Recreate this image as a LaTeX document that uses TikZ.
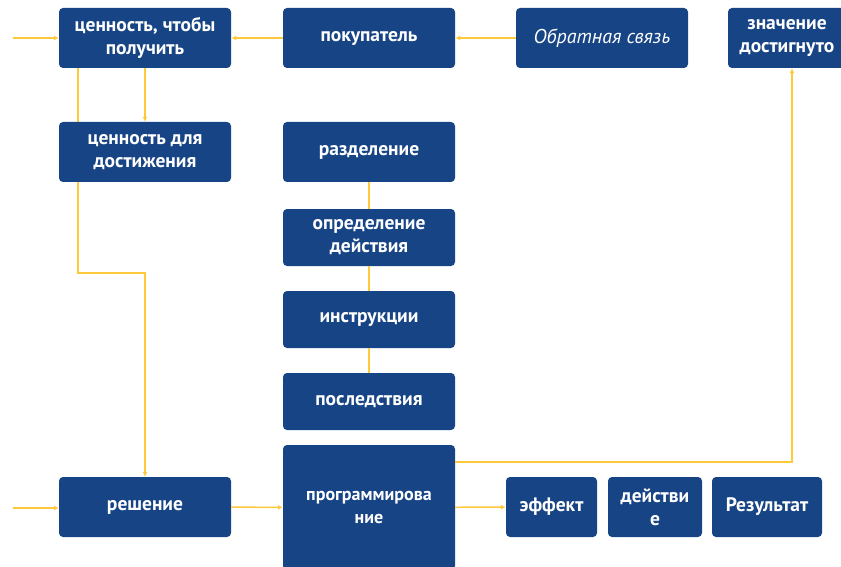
\documentclass[tikz,border=0pt]{standalone}
\usepackage{fontspec}
\setmainfont{PT Sans}
\usetikzlibrary{arrows.meta,backgrounds}
\definecolor{boxblue}{HTML}{174485}
\definecolor{linkgold}{HTML}{FFC93C}
\tikzset{
  box/.style={fill=boxblue, rounded corners=4pt, text=white, align=center,
    font=\bfseries\fontsize{19.5}{23}\selectfont, inner sep=1pt,
    minimum width=172pt, minimum height=60pt},
  link/.style={draw=linkgold, line width=1.5pt},
  arr/.style={link, -{Latex[length=5pt,width=5pt]}}
}
\begin{document}
\begin{tikzpicture}[x=1pt,y=-1pt]
\useasboundingbox (0,0) rectangle (841,567);
% top row
\node[box] (get) at (145,38) {ценность, чтобы\\получить};
\node[box] (buyer) at (369,38) {покупатель};
\node[box, font=\itshape\fontsize{20}{23}\selectfont] (feedback) at (602,38) {Обратная связь};
\node[box, minimum width=118pt] (reached) at (787,38) {значение\\достигнуто};
% left column
\node[box] (goal) at (145,152) {ценность для\\достижения};
\node[box] (solution) at (145,507) {решение};
% middle column
\node[box] (split) at (369,152) {разделение};
\node[box, minimum height=57pt] (define) at (369,237.5) {определение\\действия};
\node[box, minimum height=57pt] (instr) at (369,319.5) {инструкции};
\node[box, minimum height=57pt] (conseq) at (369,401.5) {последствия};
\node[box, minimum height=125pt, font=\bfseries\fontsize{18}{23}\selectfont] (prog) at (369,507.5) {программирова\\ние};
% bottom row
\node[box, minimum width=91pt] (effect) at (551.5,507) {эффект};
\node[box, minimum width=94pt] (action) at (655,507) {действи\\е};
\node[box, minimum width=110pt] (result) at (767,507) {Результат};
% free ends
\coordinate (in top) at (13,38);
\coordinate (in bottom) at (13,508);
% connectors
\draw[arr] (in top) -- (get);
\draw[arr] (buyer) -- (get);
\draw[arr] (feedback) -- (buyer);
\draw[arr] (get) -- (goal);
\begin{scope}[on background layer]
\draw[arr] ([xshift=19pt]get.south west) -- ++(0,205) -| (solution.north);
\end{scope}
\draw[arr] (in bottom) -- (solution.west |- in bottom);
\draw[arr] (solution) -- (prog);
\draw[arr] (prog) -- (effect);
\draw[arr] ([yshift=-17pt]prog.north east) -| ([xshift=5pt]reached.south);
\draw[link] (split) -- (define);
\draw[link] (define) -- (instr);
\draw[link] (instr) -- (conseq);
\end{tikzpicture}
\end{document}
